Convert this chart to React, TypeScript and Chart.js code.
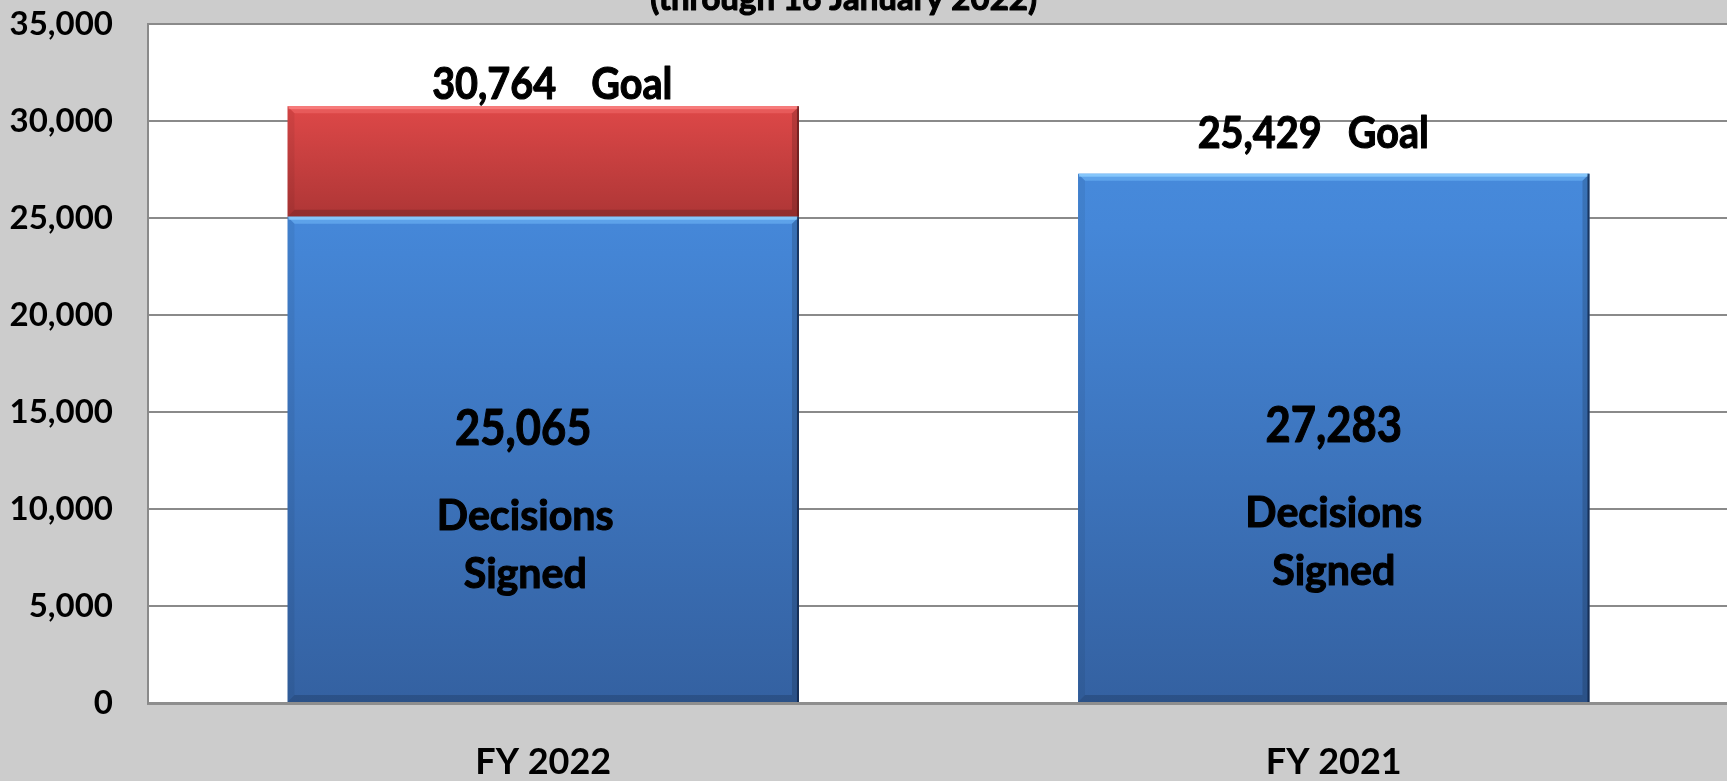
import React, { useEffect, useRef } from 'react';
import { Chart, registerables } from 'chart.js';

Chart.register(...registerables);

// ---- data ----
const categories = ['FY 2022', 'FY 2021'];
const decisionsSigned = [25065, 27283];
const remainingToGoal: (number | null)[] = [5699, null];
const goals = [30764, 25429];
const innerLabelLines = ['Decisions', 'Signed'];
const titleText = '(through 16 January 2022)';
const yMin = 0;
const yMax = 35000;
const yStep = 5000;

const FONT = 'Lato, "Open Sans", "DejaVu Sans", sans-serif';
const fmt = (v: number) => v.toLocaleString('en-US');

function drawScaled(ctx: CanvasRenderingContext2D, text: string, x: number, y: number, sx: number, align: CanvasTextAlign) {
  ctx.save();
  ctx.translate(x, y);
  ctx.scale(sx, 1);
  ctx.textAlign = align;
  ctx.textBaseline = 'alphabetic';
  ctx.lineWidth = 1.1;
  ctx.strokeStyle = '#000000';
  ctx.lineJoin = 'round';
  ctx.strokeText(text, 0, 0);
  ctx.fillText(text, 0, 0);
  ctx.restore();
}

const decorPlugin = {
  id: 'decor',
  beforeDraw(chart: any) {
    const { ctx, chartArea: a, width, height } = chart;
    ctx.save();
    ctx.fillStyle = '#cccccc';
    ctx.fillRect(0, 0, width, height);
    ctx.fillStyle = '#ffffff';
    ctx.fillRect(a.left, a.top, a.right - a.left, a.bottom - a.top);
    ctx.restore();
  },
  afterDatasetsDraw(chart: any) {
    const { ctx, chartArea: a } = chart;
    const yScale = chart.scales.y;
    const palettes = [
      { hi: 'rgba(135,200,252,0.95)', hi2: 'rgba(110,180,245,0.6)', dark: 'rgba(15,35,70,0.75)' },
      { hi: 'rgba(248,125,125,0.95)', hi2: 'rgba(240,105,105,0.55)', dark: 'rgba(80,20,20,0.6)' },
    ];
    ctx.save();
    chart.data.datasets.forEach((_ds: any, di: number) => {
      const meta = chart.getDatasetMeta(di);
      const pal = palettes[di];
      meta.data.forEach((el: any) => {
        const top = Math.min(el.y, el.base);
        const bottom = Math.max(el.y, el.base);
        if (!isFinite(top) || !isFinite(bottom) || bottom - top < 1) return;
        const left = el.x - el.width / 2;
        const right = el.x + el.width / 2;
        const b = 7;
        ctx.fillStyle = pal.hi2;
        ctx.beginPath();
        ctx.moveTo(left, top);
        ctx.lineTo(right, top);
        ctx.lineTo(right - b, top + b);
        ctx.lineTo(left + b, top + b);
        ctx.closePath();
        ctx.fill();
        ctx.fillStyle = pal.hi;
        ctx.fillRect(left + 1, top, el.width - 2, 3);
        ctx.fillStyle = 'rgba(0,0,0,0.06)';
        ctx.beginPath();
        ctx.moveTo(left, top);
        ctx.lineTo(left + b, top + b);
        ctx.lineTo(left + b, bottom - b);
        ctx.lineTo(left, bottom);
        ctx.closePath();
        ctx.fill();
        ctx.fillStyle = 'rgba(0,0,0,0.16)';
        ctx.beginPath();
        ctx.moveTo(right, top);
        ctx.lineTo(right, bottom);
        ctx.lineTo(right - b, bottom - b);
        ctx.lineTo(right - b, top + b);
        ctx.closePath();
        ctx.fill();
        ctx.fillStyle = 'rgba(0,0,0,0.16)';
        ctx.beginPath();
        ctx.moveTo(left, bottom);
        ctx.lineTo(right, bottom);
        ctx.lineTo(right - b, bottom - b);
        ctx.lineTo(left + b, bottom - b);
        ctx.closePath();
        ctx.fill();
        ctx.fillStyle = pal.dark;
        ctx.fillRect(right - 2, top, 2, bottom - top);
      });
    });

    ctx.fillStyle = '#000000';
    const meta0 = chart.getDatasetMeta(0);
    const meta1 = chart.getDatasetMeta(1);
    const innerDx = [-18, 0];
    const numberDx = [-20, 0];
    const innerDy = [0, -3];
    const goalEndDx = [13, -12];
    const goalGap = [35, 26];
    const goalRise = [7, 26];
    categories.forEach((_c, i) => {
      const el0 = meta0.data[i];
      const el1 = meta1.data[i];
      const cx = el0.x;
      ctx.font = `bold 50px ${FONT}`;
      drawScaled(ctx, fmt(decisionsSigned[i]), cx + numberDx[i], yScale.getPixelForValue(13300) + innerDy[i], 0.87, 'center');
      ctx.font = `bold 42px ${FONT}`;
      drawScaled(ctx, innerLabelLines[0], cx + innerDx[i], yScale.getPixelForValue(8900) + innerDy[i], 0.98, 'center');
      drawScaled(ctx, innerLabelLines[1], cx + innerDx[i], yScale.getPixelForValue(5950) + innerDy[i], 0.98, 'center');
      let top = el0.y;
      if (el1 && isFinite(el1.y) && remainingToGoal[i] != null) top = Math.min(top, el1.y);
      const base = top - goalRise[i];
      ctx.font = `bold 44px ${FONT}`;
      drawScaled(ctx, fmt(goals[i]), cx + goalEndDx[i], base, 0.9, 'right');
      drawScaled(ctx, 'Goal', cx + goalEndDx[i] + goalGap[i], base, 0.9, 'left');
    });
    ctx.font = `bold 33px ${FONT}`;
    drawScaled(ctx, titleText, a.left + (a.right - a.left) * 0.44, 10, 1, 'center');
    ctx.restore();
  },
};

export default function App() {
  const ref = useRef<HTMLCanvasElement | null>(null);
  useEffect(() => {
    if (!ref.current) return;
    const blueGrad = (ctx: any) => {
      const chart = ctx.chart;
      const a = chart.chartArea;
      if (!a) return '#4282d3';
      const g = chart.ctx.createLinearGradient(0, a.top, 0, a.bottom);
      g.addColorStop(0, '#4a90e2');
      g.addColorStop(0.3, '#4587d8');
      g.addColorStop(1, '#3461a1');
      return g;
    };
    const redGrad = (ctx: any) => {
      const chart = ctx.chart;
      const y = chart.scales && chart.scales.y;
      const raw = ctx.raw;
      if (!y || raw == null || !chart.chartArea) return '#c94040';
      const base = decisionsSigned[ctx.dataIndex];
      const t = y.getPixelForValue(base + raw);
      const bt = y.getPixelForValue(base);
      const g = chart.ctx.createLinearGradient(0, t, 0, bt);
      g.addColorStop(0, '#de4848');
      g.addColorStop(1, '#ae3636');
      return g;
    };
    const chart = new Chart(ref.current, {
      type: 'bar',
      data: {
        labels: categories,
        datasets: [
          {
            label: 'Decisions Signed',
            data: decisionsSigned,
            backgroundColor: blueGrad,
            borderWidth: 0,
            barPercentage: 0.647,
            categoryPercentage: 1,
          },
          {
            label: 'Remaining to Goal',
            data: remainingToGoal,
            backgroundColor: redGrad,
            borderWidth: 0,
            barPercentage: 0.647,
            categoryPercentage: 1,
          },
        ],
      },
      options: {
        animation: false,
        responsive: false,
        devicePixelRatio: 1,
        layout: { padding: { top: 24, right: 2, left: 0, bottom: 0 } },
        plugins: {
          legend: { display: false },
          tooltip: { enabled: false },
          title: { display: false },
        },
        scales: {
          x: {
            stacked: true,
            grid: { display: false, drawTicks: false },
            border: { display: true, color: '#8e8e8e', width: 3 },
            ticks: {
              color: '#000000',
              font: { family: FONT, size: 36, weight: 'bold' },
              padding: 38,
            },
            afterFit: (scale: any) => {
              scale.height = 78;
            },
          },
          y: {
            stacked: true,
            min: yMin,
            max: yMax,
            grid: { color: '#8a8a8a', lineWidth: 2, drawTicks: true, tickLength: 35, tickColor: 'rgba(0,0,0,0)' },
            border: { display: true, color: '#8a8a8a', width: 2 },
            ticks: {
              stepSize: yStep,
              color: '#000000',
              font: { family: FONT, size: 33, weight: 'bold' },
              padding: 0,
              callback: (v: any) => fmt(Number(v)),
            },
            afterFit: (scale: any) => {
              scale.width = 148;
            },
          },
        },
      },
      plugins: [decorPlugin],
    });
    return () => chart.destroy();
  }, []);
  return (
    <div style={{ position: 'fixed', left: 0, top: 0, width: 1727, height: 781, overflow: 'hidden', background: '#cccccc' }}>
      <canvas ref={ref} width={1731} height={781} style={{ display: 'block', width: 1731, height: 781 }} />
    </div>
  );
}
